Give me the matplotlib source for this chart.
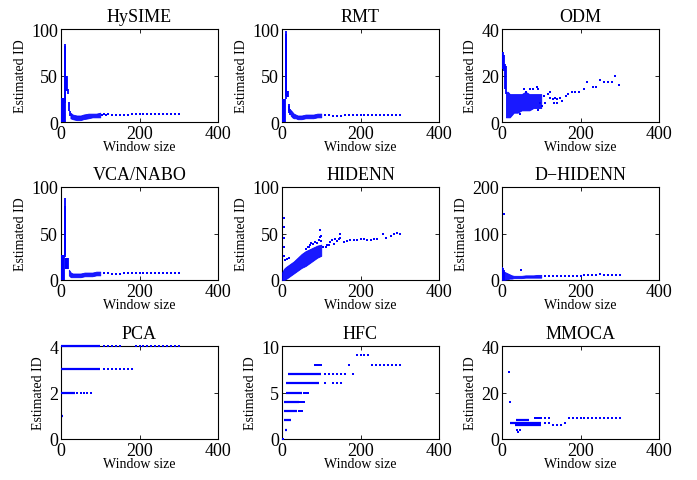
import matplotlib
matplotlib.use("Agg")
import matplotlib.pyplot as plt

plt.rcParams['font.family'] = ['Liberation Serif', 'DejaVu Serif']

BLUE = '#0000ff'

# window sizes of the sparse tail (beyond 100)
sparse_ws = [110, 120, 130, 140, 150, 160, 170, 180, 190, 200,
             210, 220, 230, 240, 250, 260, 270, 280, 290, 300]

# ---- HySIME ----
hysime_col_x = [1, 3, 5, 7, 9, 10, 11, 13, 15, 17, 20, 23]
hysime_col_lo = [0, 0, 0, 0, 0, 25, 20, 33, 33, 30, 12, 6]
hysime_col_hi = [26, 26, 26, 26, 27, 84, 82, 50, 50, 36, 22, 12]
hysime_band_x = [24, 30, 40, 50, 57, 70, 80, 90, 100]
hysime_band_lo = [4, 3, 2, 2, 3, 4, 5, 5, 5]
hysime_band_hi = [10, 8, 7, 7, 8, 9, 9, 9, 10]
hysime_tail_y = [9, 9, 7, 7, 7, 8, 8, 9, 9, 9, 9, 9, 9, 9, 9, 9, 9, 9, 9, 9]
hysime_dot_x = [105, 115]
hysime_dot_y = [8, 7]

# ---- RMT ----
rmt_col_x = [1, 3, 5, 7, 9, 10, 11, 13, 15, 17, 19, 21]
rmt_col_lo = [0, 0, 0, 0, 25, 28, 28, 27, 27, 12, 10, 8]
rmt_col_hi = [25, 25, 25, 25, 95, 98, 90, 33, 33, 19, 17, 14]
rmt_band_x = [22, 26, 30, 35, 40, 50, 60, 70, 80, 90, 100]
rmt_band_lo = [7, 5, 4, 4, 3, 3, 4, 4, 4, 5, 5]
rmt_band_hi = [13, 11, 9, 8, 7, 7, 8, 8, 8, 9, 9]
rmt_tail_y = [8, 8, 6, 6, 6, 7, 8, 8, 8, 8, 8, 8, 8, 8, 8, 8, 8, 8, 8, 8]
rmt_dot_x = []
rmt_dot_y = []

# ---- ODM ----
odm_col_x = [1, 3, 5, 7, 9]
odm_col_lo = [23, 23, 22, 14, 12]
odm_col_hi = [30, 30, 29, 25, 24]
odm_band_x = [10, 15, 20, 25, 30, 40, 50, 60, 70, 80, 90, 100]
odm_band_lo = [2, 2, 2, 3, 4, 4, 5, 5, 5, 6, 6, 6]
odm_band_hi = [13, 13, 12, 12, 12, 12, 12, 13, 12, 12, 12, 12]
odm_dot_x = [45, 55, 60, 71, 80, 88, 92, 92, 98, 101, 108, 109, 117, 122,
             123, 129, 132, 135, 139, 140, 149, 152, 162, 168, 179, 187,
             196, 208, 217, 232, 240, 249, 259, 270, 281, 289, 299]
odm_dot_y = [3.5, 14, 13, 14, 14, 15, 14, 5, 8, 7, 11, 8, 12, 10.5,
             13, 10, 8, 10.5, 9.7, 8, 10.5, 9, 11, 12, 13, 13,
             13, 14, 17, 15, 15, 18, 17, 17, 17, 20, 16]

# ---- VCA/NABO ----
vca_col_x = [1, 3, 5, 7, 9, 10, 11, 12, 14, 16, 18]
vca_col_lo = [0, 0, 0, 0, 27, 27, 25, 12, 12, 12, 12]
vca_col_hi = [27, 27, 27, 27, 80, 88, 45, 24, 24, 24, 24]
vca_band_x = [20, 22, 25, 30, 40, 50, 60, 70, 80, 90, 100]
vca_band_lo = [5, 4, 3, 3, 3, 3, 4, 4, 4, 5, 5]
vca_band_hi = [11, 10, 8, 7, 7, 7, 8, 8, 8, 9, 9]
vca_tail_y = [8, 8, 6, 6, 6, 7, 8, 8, 8, 8, 8, 8, 8, 8, 8, 8, 8, 8, 8, 7]
vca_dot_x = []
vca_dot_y = []

# ---- HIDENN ----
hidenn_band_x = [0, 5, 10, 20, 30, 40, 50, 60, 70, 80, 90, 100]
hidenn_band_lo = [0, 0, 1, 4, 7, 10, 13, 15, 18, 21, 24, 26]
hidenn_band_hi = [8, 12, 14, 17, 20, 24, 28, 31, 33, 35, 37, 38]
hidenn_dot_x = [4, 4, 4, 4, 5, 8, 13, 17, 60, 65, 70, 72, 75, 80, 85, 90,
                94, 96, 98, 100, 100, 105, 111, 115, 119, 123, 128, 132,
                136, 139, 145, 149, 149, 157, 166, 174, 183, 191, 200, 209,
                217, 226, 234, 243, 257, 266, 277, 285, 294, 301]
hidenn_dot_y = [67, 57, 45, 35, 26, 22, 23, 24, 33, 35, 36, 38, 40, 39, 41, 40,
                43, 46, 54, 47, 42, 35, 35, 38, 38, 41, 43, 39,
                44.5, 41.6, 44, 49, 45, 41, 42, 43, 43, 43, 44.5, 44.5,
                43.5, 43.5, 44, 44.5, 50, 45, 47, 50, 51, 50]

# ---- D-HIDENN ----
dhidenn_col_x = [1, 3, 5]
dhidenn_col_lo = [0, 0, 0]
dhidenn_col_hi = [29, 26, 22]
dhidenn_band_x = [0, 5, 10, 15, 20, 25, 30, 40, 50, 60, 70, 80, 90, 100]
dhidenn_band_lo = [0, 0, 1, 2, 3, 3, 4, 4, 4, 5, 5, 5, 5, 5]
dhidenn_band_hi = [20, 18, 16, 14, 12, 10, 9, 9, 9, 10, 10, 10, 11, 11]
dhidenn_tail_y = [8, 8, 8, 8, 8, 9, 9, 9, 9, 9, 11, 11, 11, 11, 12, 11, 11, 11, 11, 11]
dhidenn_dot_x = [4, 48]
dhidenn_dot_y = [142, 21]

# ---- PCA ----
pca_run_y = [4, 3, 2, 1]
pca_run_x0 = [1, 1, 1, 2]
pca_run_x1 = [100, 100, 35, 6]
pca_tail_y = [4, 4, 4, 4, 4, 3, 3, 3, 4, 4, 4, 4, 4, 4, 4, 4, 4, 4, 4, 4]
pca_dot_x = [110, 120, 130, 140, 150, 42, 50, 59, 67, 76]
pca_dot_y = [3, 3, 3, 3, 3, 2, 2, 2, 2, 2]

# ---- HFC ----
hfc_run_y = [1, 2, 3, 4, 5, 6, 7]
hfc_run_x0 = [7, 5, 5, 5, 9, 10, 16]
hfc_run_x1 = [12, 22, 38, 43, 51, 94, 100]
hfc_tail_y = [7, 7, 7, 7, 7, 7, 8, 7, 9, 9, 9, 9, 8, 8, 8, 8, 8, 8, 8, 8]
hfc_dot_x = [110, 130, 140, 150, 43, 47, 51, 47, 51, 55, 55, 60, 66,
             85, 90, 95, 100, 2]
hfc_dot_y = [6, 6, 6, 6, 3, 3, 3, 4, 4, 4, 5, 5, 5,
             8, 8, 8, 8, 0]

# ---- MMOCA ----
mmoca_run_y = [7, 6, 8]
mmoca_run_x0 = [21, 33, 35]
mmoca_run_x1 = [100, 100, 70]
mmoca_tail_y = [9, 9, 6, 6, 6, 7, 9, 9, 9, 9, 9, 9, 9, 9, 9, 9, 9, 9, 9, 9]
mmoca_dot_x = [110, 120, 85, 88, 92, 96, 100, 38, 42, 47, 17, 21]
mmoca_dot_y = [7, 7, 9, 9, 9, 9, 9, 4, 3, 4, 29, 16]

titles = ['HySIME', 'RMT', 'ODM', 'VCA/NABO', 'HIDENN', 'D\u2212HIDENN',
          'PCA', 'HFC', 'MMOCA']
y_max = [100, 100, 40, 100, 100, 200, 4, 10, 40]
y_ticks = [[0, 50, 100], [0, 50, 100], [0, 20, 40],
           [0, 50, 100], [0, 50, 100], [0, 100, 200],
           [0, 2, 4], [0, 5, 10], [0, 20, 40]]

panels = [
    dict(col=(hysime_col_x, hysime_col_lo, hysime_col_hi),
         band=(hysime_band_x, hysime_band_lo, hysime_band_hi),
         dots=(sparse_ws + hysime_dot_x, hysime_tail_y + hysime_dot_y)),
    dict(col=(rmt_col_x, rmt_col_lo, rmt_col_hi),
         band=(rmt_band_x, rmt_band_lo, rmt_band_hi),
         dots=(sparse_ws + rmt_dot_x, rmt_tail_y + rmt_dot_y)),
    dict(col=(odm_col_x, odm_col_lo, odm_col_hi),
         band=(odm_band_x, odm_band_lo, odm_band_hi),
         dots=(odm_dot_x, odm_dot_y)),
    dict(col=(vca_col_x, vca_col_lo, vca_col_hi),
         band=(vca_band_x, vca_band_lo, vca_band_hi),
         dots=(sparse_ws + vca_dot_x, vca_tail_y + vca_dot_y)),
    dict(band=(hidenn_band_x, hidenn_band_lo, hidenn_band_hi),
         dots=(hidenn_dot_x, hidenn_dot_y)),
    dict(col=(dhidenn_col_x, dhidenn_col_lo, dhidenn_col_hi),
         band=(dhidenn_band_x, dhidenn_band_lo, dhidenn_band_hi),
         dots=(sparse_ws + dhidenn_dot_x, dhidenn_tail_y + dhidenn_dot_y)),
    dict(run=(pca_run_y, pca_run_x0, pca_run_x1),
         dots=(sparse_ws + pca_dot_x, pca_tail_y + pca_dot_y)),
    dict(run=(hfc_run_y, hfc_run_x0, hfc_run_x1),
         dots=(sparse_ws + hfc_dot_x, hfc_tail_y + hfc_dot_y)),
    dict(run=(mmoca_run_y, mmoca_run_x0, mmoca_run_x1),
         dots=(sparse_ws + mmoca_dot_x, mmoca_tail_y + mmoca_dot_y)),
]

W, H = 697, 481
fig = plt.figure(figsize=(W / 100, H / 100), dpi=100)

lefts = [61, 282, 502]
bottoms = [123, 281, 440]
aw, ah = 157, 93

for i, p in enumerate(panels):
    r, c = divmod(i, 3)
    ax = fig.add_axes([lefts[c] / W, 1 - bottoms[r] / H, aw / W, ah / H])

    if 'band' in p:
        bx, blo, bhi = p['band']
        ax.fill_between(bx, blo, bhi, color=BLUE, lw=0.6, edgecolor=BLUE,
                        alpha=0.9, zorder=3)
    if 'col' in p:
        cx, clo, chi = p['col']
        ax.vlines(cx, clo, chi, color=BLUE, lw=1.3, zorder=3)
    if 'run' in p:
        ry, rx0, rx1 = p['run']
        ax.hlines(ry, rx0, rx1, color=BLUE, lw=1.6, zorder=3, clip_on=False)
    dx, dy = p['dots']
    ax.plot(dx, dy, 's', ms=1.9, mew=0, color=BLUE, zorder=3, clip_on=False)

    ax.set_xlim(0, 400)
    ax.set_ylim(0, y_max[i])
    ax.set_xticks([0, 200, 400])
    ax.set_yticks(y_ticks[i])
    ax.tick_params(direction='in', top=True, right=True, length=3, width=0.6,
                   labelsize=13, pad=2)
    for s in ax.spines.values():
        s.set_linewidth(0.8)
    ax.set_title(titles[i], fontsize=13, pad=6)
    ax.set_xlabel('Window size', fontsize=10, labelpad=-1)
    ax.set_ylabel('Estimated ID', fontsize=10, labelpad=3)

fig.savefig('out.png', dpi=100)
